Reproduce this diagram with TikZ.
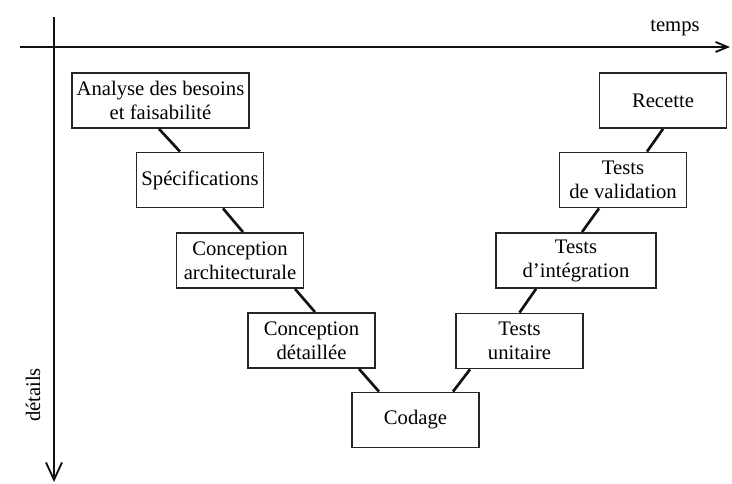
\documentclass[tikz,border=0pt]{standalone}
\usepackage{fontspec}
\setmainfont{Liberation Serif}
\usepackage{tikz}
\usetikzlibrary{arrows.meta,calc}
\definecolor{VInk}{HTML}{111111}
\definecolor{VFrame}{HTML}{262626}
\tikzset{
  vbox/.style={draw=VFrame, line width=1.1pt, fill=white, align=center,
    minimum width=95.5pt, minimum height=41.5pt, inner sep=2pt},
  vlink/.style={draw=VInk, line width=2pt},
  vaxis/.style={draw=VInk, line width=1.6pt},
  timetip/.style={-{Straight Barb[length=9pt,width=7.5pt,line width=1.4pt]}},
  detailtip/.style={-{Straight Barb[length=13pt,width=12pt,line width=1.4pt]}}
}

\begin{document}
\begin{tikzpicture}[x=0.75pt, y=-0.75pt, font=\fontsize{15.5pt}{18pt}\selectfont]
  \fill[white] (0,0) rectangle (732,484);
  \useasboundingbox (0,0) rectangle (732,484);

  % axes
  \coordinate (tstart) at (20,47);
  \coordinate (tend) at (730,47);
  \coordinate (dstart) at (54,17);
  \coordinate (dend) at (54,482);
  \draw[vaxis, timetip] (tstart) -- (tend);
  \draw[vaxis, detailtip] (dstart) -- (dend);
  \node[anchor=base] (temps) at (675,32) {temps};
  \node[rotate=90] (details) at (33,395) {détails};

  % left branch
  \node[vbox, minimum width=133pt] (ana) at (160.5,100.5)
    {Analyse des besoins\\et faisabilité};
  \node[vbox] (spec) at (200,180) {Spécifications};
  \node[vbox] (arch) at (240,260.5) {Conception\\architecturale};
  \node[vbox] (det) at (311.5,340.5) {Conception\\détaillée};
  \node[vbox] (cod) at (415.5,420) {Codage};

  % right branch
  \node[vbox] (uni) at (519.5,341) {Tests\\unitaire};
  \node[vbox, minimum width=120pt] (integ) at (576,260.5) {Tests\\d’intégration};
  \node[vbox] (valid) at (623,180) {Tests\\de validation};
  \node[vbox] (rec) at (663,100.5) {Recette};

  \draw[vlink] ($(ana.south)+(-1.5,0)$) -- ($(spec.north)+(-20,0)$);
  \draw[vlink] ($(spec.south)+(23,0)$) -- ($(arch.north)+(3,0)$);
  \draw[vlink] ($(arch.south)+(55,0)$) -- ($(det.north)+(3.5,0)$);
  \draw[vlink] ($(det.south)+(47.5,0)$) -- ($(cod.north)+(-36.5,0)$);
  \draw[vlink] ($(cod.north)+(37.5,0)$) -- ($(uni.south)+(-49.5,0)$);
  \draw[vlink] (uni.north) -- ($(integ.south)+(-40,0)$);
  \draw[vlink] ($(integ.north)+(6,0)$) -- ($(valid.south)+(-24,0)$);
  \draw[vlink] ($(valid.north)+(24,0)$) -- (rec.south);
\end{tikzpicture}
\end{document}
